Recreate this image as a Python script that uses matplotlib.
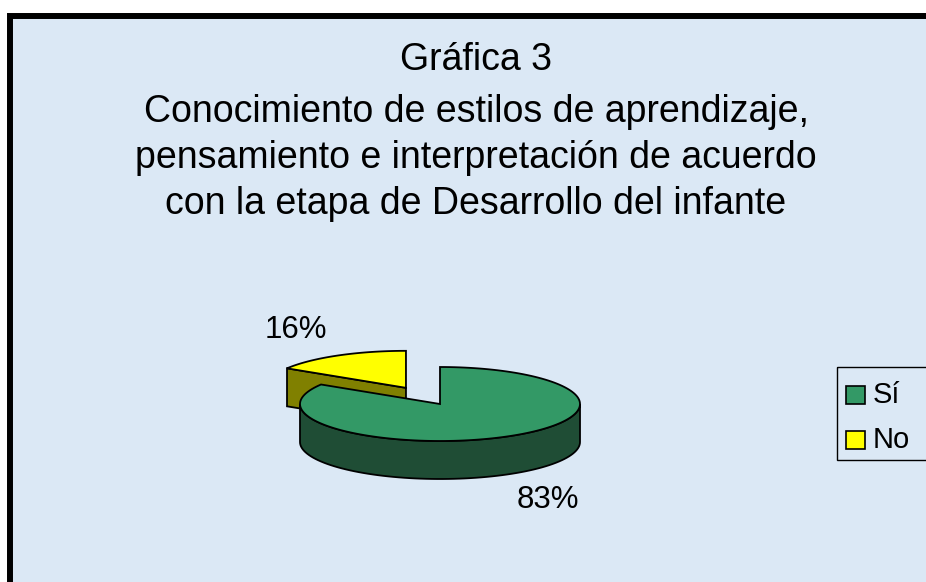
import numpy as np
import matplotlib.pyplot as plt
from matplotlib.patches import Polygon, Rectangle

# data
categories = ['Sí', 'No']
values = [83, 16]
pct_labels = ['83%', '16%']
colors_top = ['#339966', '#ffff00']
colors_side = ['#1f4d35', '#808000']
explode = [0.0, 0.5]

title_lines = ['Gráfica 3',
               'Conocimiento de estilos de aprendizaje,',
               'pensamiento e interpretación de acuerdo',
               'con la etapa de Desarrollo del infante']

# layout (pixel units)
W, H = 926, 582
cx, cy = 440, 404
R, ry, depth = 140, 37, 38
label_pos = [(548, 500), (296, 330)]
title_y = [60, 112, 158, 204]

fig = plt.figure(figsize=(W / 100, H / 100), dpi=100)
ax = fig.add_axes([0, 0, 1, 1])
ax.set_xlim(0, W)
ax.set_ylim(H, 0)
ax.axis('off')

# background panel with thick frame
ax.add_patch(Rectangle((10, 16), W + 20, H + 20, facecolor='#dbe8f5',
                       edgecolor='black', lw=4.3, zorder=0))


def pt(x0, y0, t, dz=0):
    return x0 + R * np.cos(np.radians(t)), y0 - ry * np.sin(np.radians(t)) + dz


# slice angles: start at 12 o'clock, clockwise
fracs = np.array(values, float) / sum(values)
spans = fracs * 360
ends = 90 - np.cumsum(spans)
starts = ends + spans

slices = []
for i in range(len(values)):
    a0, a1 = ends[i], starts[i]  # ccw range [a0, a1]
    mid = np.radians((a0 + a1) / 2)
    ox = cx + explode[i] * R * np.cos(mid)
    oy = cy - explode[i] * ry * np.sin(mid)
    slices.append((i, a0, a1, ox, oy))

# draw back slices first
slices.sort(key=lambda s: s[4])
z = 2
for i, a0, a1, ox, oy in slices:
    # radial faces
    for a, vis in ((a0, np.cos(np.radians(a0)) > 1e-6),
                   (a1, np.cos(np.radians(a1)) < -1e-6)):
        if vis:
            p1 = pt(ox, oy, a)
            face = [(ox, oy), p1, (p1[0], p1[1] + depth), (ox, oy + depth)]
            ax.add_patch(Polygon(face, closed=True, facecolor=colors_side[i],
                                 edgecolor='black', lw=1.3, zorder=z))
    # outer front side
    for k in range(-1, 2):
        lo = max(a0, 180 + 360 * k)
        hi = min(a1, 360 + 360 * k)
        if hi > lo:
            ts = np.linspace(lo, hi, 80)
            top = [pt(ox, oy, t) for t in ts]
            bot = [pt(ox, oy, t, depth) for t in ts[::-1]]
            ax.add_patch(Polygon(top + bot, closed=True, facecolor=colors_side[i],
                                 edgecolor='black', lw=1.3, zorder=z))
    # top surface
    ts = np.linspace(a0, a1, 150)
    poly = [(ox, oy)] + [pt(ox, oy, t) for t in ts]
    ax.add_patch(Polygon(poly, closed=True, facecolor=colors_top[i],
                         edgecolor='black', lw=1.3, zorder=z + 1))
    z += 2

for lab, (lx, ly) in zip(pct_labels, label_pos):
    ax.text(lx, ly, lab, fontsize=22.5, family='Liberation Sans',
            ha='center', va='center', zorder=10)

# title
for line, ty in zip(title_lines, title_y):
    ax.text(476, ty, line, fontsize=27, family='Liberation Sans',
            ha='center', va='center', zorder=10)

# legend (transparent box)
ax.add_patch(Rectangle((837, 367), 120, 93, facecolor='none',
                       edgecolor='black', lw=1, zorder=10))
for j, cat in enumerate(categories):
    yy = 395 + j * 45
    ax.add_patch(Rectangle((846, yy - 9), 19, 18, facecolor=colors_top[j],
                           edgecolor='black', lw=1.2, zorder=11))
    ax.text(873, yy, cat, fontsize=21, family='Liberation Sans',
            ha='left', va='center', zorder=11)

fig.savefig('out.png', dpi=100, facecolor='white')
